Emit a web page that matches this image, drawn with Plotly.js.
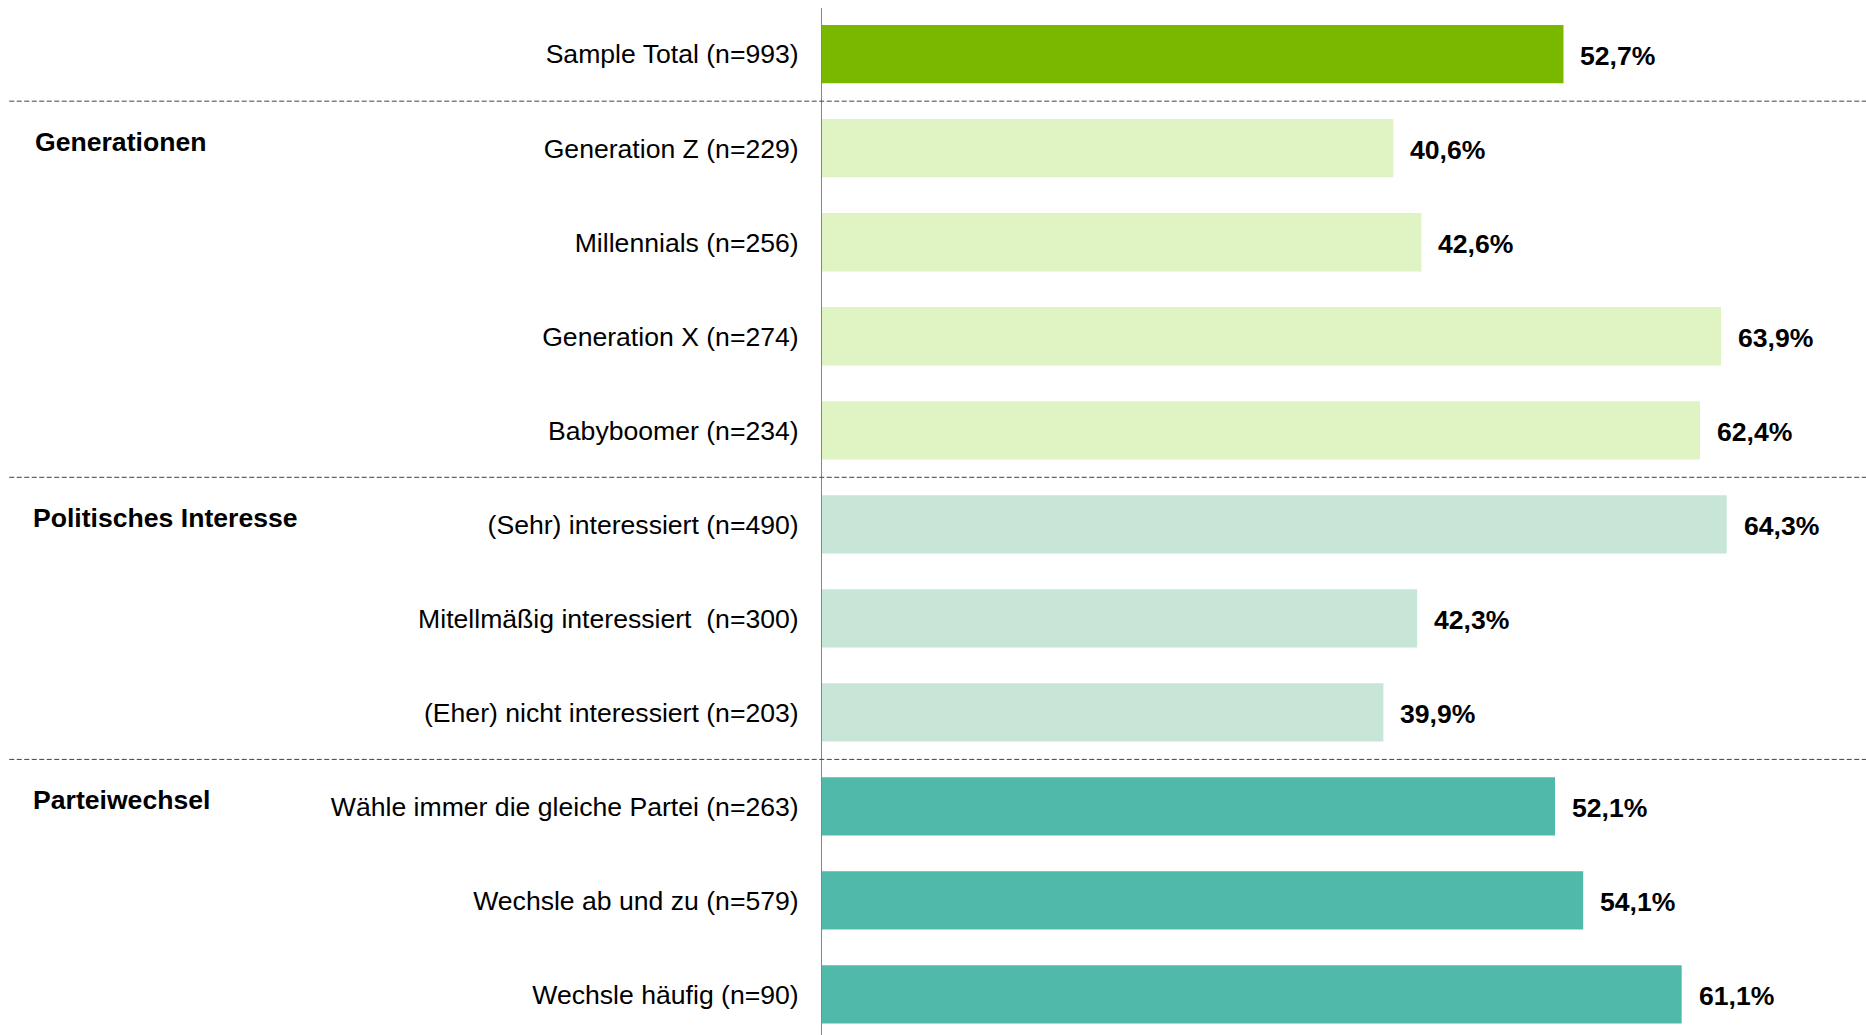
<!DOCTYPE html>
<html>
<head>
<meta charset="utf-8">
<script src="https://cdn.plot.ly/plotly-3.0.1.min.js"></script>
<style>
  html, body { margin: 0; padding: 0; background: #fff; }
  #plot { width: 1866px; height: 1035px; }
</style>
</head>
<body>
<div id="plot"></div>
<script>
// categories, top to bottom
const labels = [
  "Sample Total (n=993)",
  "Generation Z (n=229)",
  "Millennials (n=256)",
  "Generation X (n=274)",
  "Babyboomer (n=234)",
  "(Sehr) interessiert (n=490)",
  "Mitellmäßig interessiert  (n=300)",
  "(Eher) nicht interessiert (n=203)",
  "Wähle immer die gleiche Partei (n=263)",
  "Wechsle ab und zu (n=579)",
  "Wechsle häufig (n=90)"
];
const values = [52.7, 40.6, 42.6, 63.9, 62.4, 64.3, 42.3, 39.9, 52.1, 54.1, 61.1];
const groups = ["Sample", "Gen", "Gen", "Gen", "Gen", "Pol", "Pol", "Pol", "Partei", "Partei", "Partei"];

const groupTitles = ["Generationen", "Politisches Interesse", "Parteiwechsel"];
const groupFirstRow = [1, 5, 8];
const separators = [0.5, 4.5, 7.5];

const colors = { Sample: "#7ab800", Gen: "#dff4c2", Pol: "#c8e6d7", Partei: "#50b9a9" };

const FONT = "Arial, 'Liberation Sans', sans-serif";
const FS = 26.6;

const idx = labels.map((_, i) => i);

const trace = {
  type: "bar",
  orientation: "h",
  x: values,
  y: idx,
  marker: { color: groups.map(g => colors[g]), line: { width: 0 } },
  hoverinfo: "skip"
};

// value labels right of the bars
const valueNotes = values.map((v, i) => ({
  x: v, y: i, xref: "x", yref: "y",
  text: v.toFixed(1).replace(".", ",") + "%",
  showarrow: false, xanchor: "left", yanchor: "middle", xshift: 15, yshift: -2,
  font: { family: FONT, size: FS, color: "#000", weight: "bold" }
}));

// group headings on the far left
const groupNotes = groupTitles.map((t, k) => ({
  x: k === 0 ? -0.7557 : -0.7577, y: groupFirstRow[k], xref: "paper", yref: "y",
  text: "<b>" + t + "</b>",
  showarrow: false, xanchor: "left", yanchor: "middle", yshift: 6,
  font: { family: FONT, size: FS, color: "#000" }
}));

const sepShapes = separators.map(s => ({
  type: "line", xref: "paper", yref: "y",
  x0: -0.7785, x1: 1, y0: s, y1: s,
  line: { color: "#404040", width: 1, dash: "5px,2.5px" }
}));

const layout = {
  width: 1866,
  height: 1035,
  margin: { l: 822, r: 0, t: 8, b: 0 },
  paper_bgcolor: "#fff",
  plot_bgcolor: "#fff",
  showlegend: false,
  bargap: 0.38,
  font: { family: FONT, size: FS, color: "#000" },
  xaxis: {
    range: [0, 74.2],
    showgrid: false, zeroline: false, showline: false,
    showticklabels: false, ticks: ""
  },
  yaxis: {
    range: [10.431, -0.491],
    tickmode: "array",
    tickvals: idx,
    ticktext: labels,
    showgrid: false, zeroline: false,
    showline: true, linecolor: "#7f868c", linewidth: 1,
    ticks: "", ticklabelstandoff: 17,
    tickfont: { family: FONT, size: FS, color: "#000" }
  },
  annotations: valueNotes.concat(groupNotes),
  shapes: sepShapes
};

Plotly.newPlot("plot", [trace], layout, { staticPlot: true });
</script>
</body>
</html>
